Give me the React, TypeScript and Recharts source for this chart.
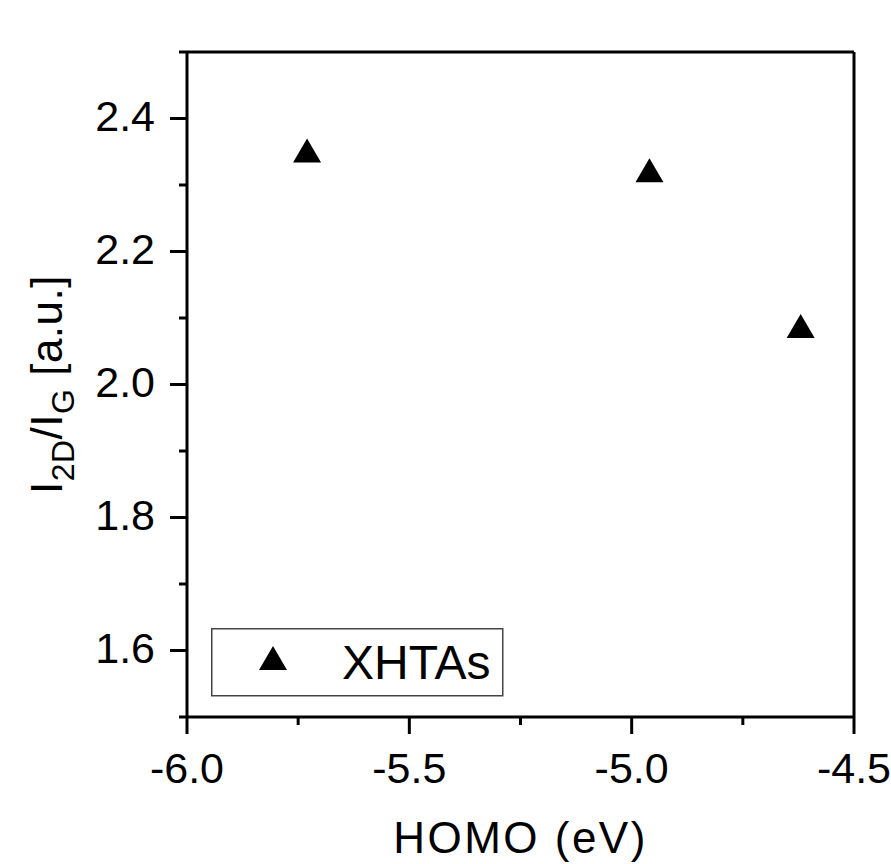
import { ScatterChart, Scatter, XAxis, YAxis, ReferenceLine, Legend } from "recharts";

// data
const homo = [-5.73, -4.96, -4.62];
const ratio = [2.352, 2.322, 2.088];
const seriesName = "XHTAs";

const xMajor = [-6.0, -5.5, -5.0, -4.5];
const xMinor = [-5.75, -5.25, -4.75];
const yMajor = [1.6, 1.8, 2.0, 2.2, 2.4];
const yMinor = [1.5, 1.7, 1.9, 2.1, 2.3, 2.5];

const points = homo.map((x, i) => ({ x, y: ratio[i] }));
const xTicks = [...xMajor, ...xMinor].sort((a, b) => a - b);
const yTicks = [...yMajor, ...yMinor].sort((a, b) => a - b);

const FONT = "'Liberation Sans', Arial, sans-serif";

function YTick({ x, y, payload }: any) {
  const major = yMajor.includes(payload.value);
  return (
    <g>
      <line x1={x} x2={x - (major ? 17 : 8)} y1={y} y2={y} stroke="#000" strokeWidth={3} />
      {major && (
        <text x={x - 32} y={y + 12} textAnchor="end" fontSize={43} fontFamily={FONT} fill="#000">
          {payload.value.toFixed(1)}
        </text>
      )}
    </g>
  );
}

function XTick({ x, y, payload }: any) {
  const major = xMajor.includes(payload.value);
  return (
    <g>
      <line x1={x} x2={x} y1={y} y2={y + (major ? 17 : 8)} stroke="#000" strokeWidth={3} />
      {major && (
        <text x={x} y={y + 66} textAnchor="middle" fontSize={43} fontFamily={FONT} fill="#000">
          {payload.value.toFixed(1)}
        </text>
      )}
    </g>
  );
}

function Triangle({ cx, cy }: any) {
  return <polygon points={`${cx - 14},${cy + 12} ${cx + 14},${cy + 12} ${cx},${cy - 12}`} fill="#000" />;
}

function XTitle({ viewBox }: any) {
  const cx = viewBox.x + viewBox.width / 2;
  return (
    <text x={cx} y={853} textAnchor="middle" fontSize={44} letterSpacing={2.5} fontFamily={FONT} fill="#000">
      HOMO (eV)
    </text>
  );
}

function YTitle({ viewBox }: any) {
  const cy = viewBox.y + viewBox.height / 2;
  const bx = 62;
  return (
    <text
      x={bx}
      y={cy}
      transform={`rotate(-90, ${bx}, ${cy})`}
      textAnchor="middle"
      fontSize={44}
      letterSpacing={0.5}
      fontFamily={FONT}
      fill="#000"
    >
      I
      <tspan fontSize={32} dy={12}>2D</tspan>
      <tspan dy={-12}>/I</tspan>
      <tspan fontSize={32} dy={12}>G</tspan>
      <tspan dy={-12}> [a.u.]</tspan>
    </text>
  );
}

function LegendBox({ payload }: any) {
  const name = payload && payload[0] ? payload[0].value : seriesName;
  return (
    <svg width={293} height={69} style={{ display: "block" }}>
      <rect x={0.75} y={0.75} width={291} height={67} fill="#fff" stroke="#444" strokeWidth={1.5} />
      <polygon points="48,42 76,42 62,18" fill="#000" />
      <text x={131} y={51} fontSize={48} fontFamily={FONT} fill="#000">
        {name}
      </text>
    </svg>
  );
}

export default function App() {
  return (
    <div style={{ position: "absolute", left: 0, top: 0, background: "#fff" }}>
      <ScatterChart width={891} height={864} margin={{ top: 52, right: 37, left: 0, bottom: 0 }}>
        <XAxis
          type="number"
          dataKey="x"
          domain={[-6, -4.5]}
          ticks={xTicks}
          interval={0}
          tickSize={0}
          tickMargin={0}
          tickLine={false}
          tick={<XTick />}
          height={147}
          axisLine={{ stroke: "#000", strokeWidth: 3 }}
          allowDataOverflow
          label={<XTitle />}
        />
        <YAxis
          type="number"
          dataKey="y"
          domain={[1.5, 2.5]}
          ticks={yTicks}
          interval={0}
          tickSize={0}
          tickMargin={0}
          tickLine={false}
          tick={<YTick />}
          width={187}
          axisLine={{ stroke: "#000", strokeWidth: 3 }}
          allowDataOverflow
          label={<YTitle />}
        />
        <ReferenceLine y={2.5} stroke="#000" strokeWidth={3} />
        <ReferenceLine x={-4.5} stroke="#000" strokeWidth={3} />
        <Legend
          layout="horizontal"
          verticalAlign="middle"
          align="center"
          content={<LegendBox />}
          wrapperStyle={{ left: 211, top: 628, width: 293, height: 69 }}
        />
        <Scatter name={seriesName} data={points} fill="#000" shape={<Triangle />} isAnimationActive={false} />
      </ScatterChart>
    </div>
  );
}
